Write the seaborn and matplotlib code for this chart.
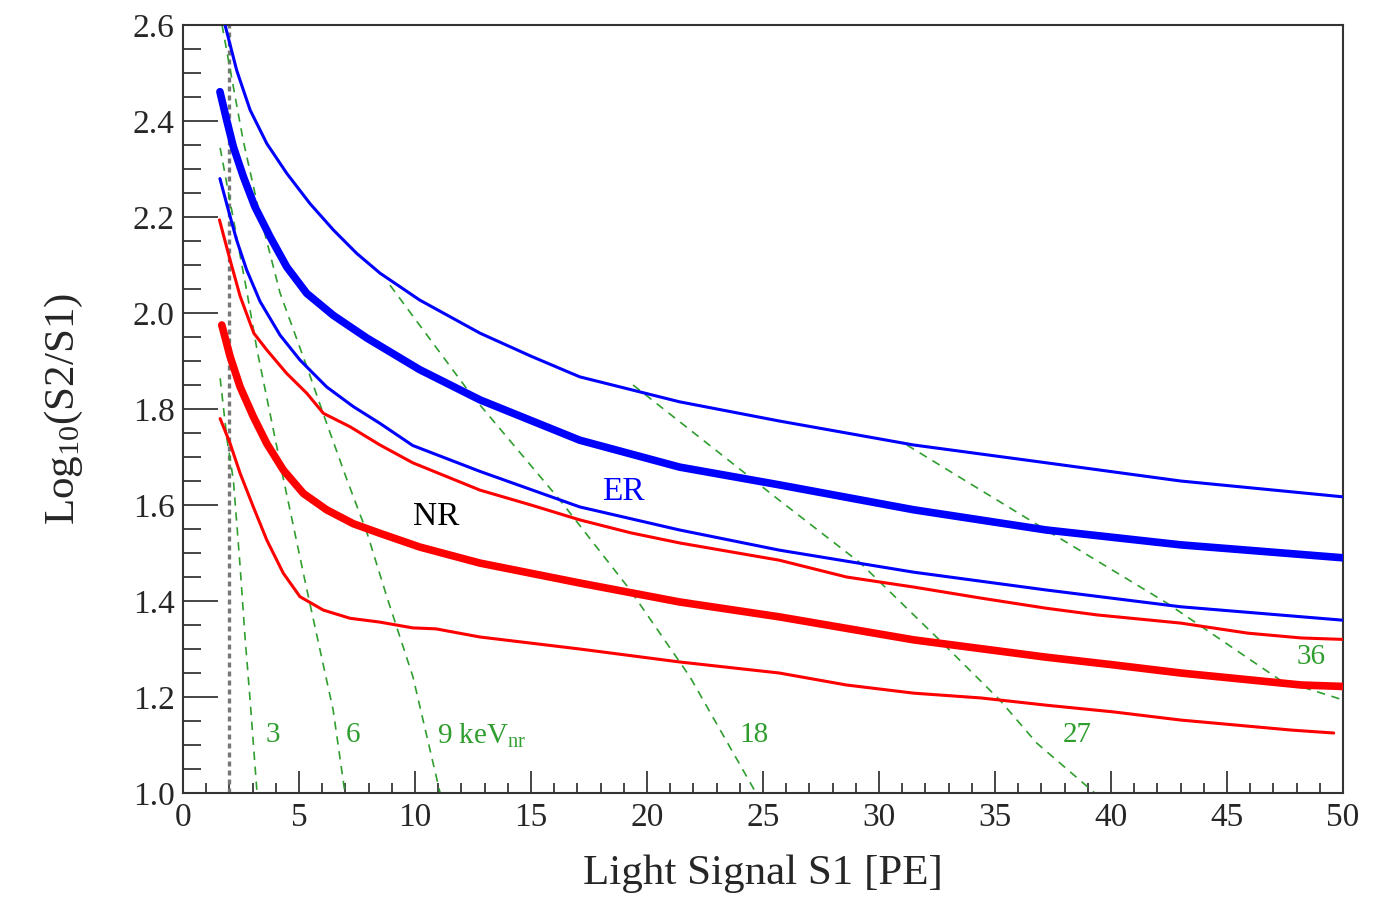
import matplotlib
matplotlib.use("Agg")
import matplotlib.pyplot as plt
import seaborn as sns
from matplotlib.ticker import MultipleLocator, FormatStrFormatter

# ER band (blue): upper, median, lower
er_hi_x = [1.81, 2.31, 2.89, 3.61, 4.47, 5.47, 6.48, 7.49, 8.49, 10.2, 12.8, 15.0, 17.1, 21.4, 25.7, 31.5,
           37.2, 43.0, 50.0]
er_hi_y = [2.60, 2.506, 2.423, 2.353, 2.291, 2.228, 2.173, 2.124, 2.083, 2.027, 1.958, 1.91, 1.867, 1.815,
           1.775, 1.725, 1.688, 1.650, 1.617]

er_med_x = [1.59, 1.88, 2.17, 2.6, 3.1, 3.75, 4.47, 5.33, 6.48, 7.92, 10.2, 12.8, 17.1, 21.4, 25.7, 31.5,
            37.2, 43.0, 50.0]
er_med_y = [2.461, 2.402, 2.346, 2.284, 2.221, 2.159, 2.096, 2.041, 1.995, 1.948, 1.882, 1.819, 1.735, 1.679,
            1.642, 1.59, 1.548, 1.517, 1.49]

er_lo_x = [1.59, 1.95, 2.31, 2.74, 3.32, 4.18, 5.04, 6.19, 7.34, 8.49, 9.9, 12.8, 17.1, 21.4, 25.7, 31.5,
           37.2, 43.0, 50.0]
er_lo_y = [2.28, 2.215, 2.152, 2.09, 2.024, 1.954, 1.902, 1.846, 1.805, 1.77, 1.724, 1.67, 1.596, 1.548,
           1.506, 1.46, 1.423, 1.388, 1.36]

# NR band (red): upper, median, lower
nr_hi_x = [1.57, 2.03, 2.46, 3.05, 3.61, 4.47, 5.33, 6.05, 7.2, 8.49, 9.9, 12.8, 15.0, 17.1, 19.3, 21.4,
           25.7, 28.6, 31.5, 34.4, 37.2, 39.4, 43.0, 45.9, 48.2, 50.0]
nr_hi_y = [2.194, 2.11, 2.035, 1.958, 1.923, 1.874, 1.833, 1.791, 1.763, 1.725, 1.688, 1.631, 1.60, 1.569,
           1.542, 1.521, 1.485, 1.45, 1.429, 1.406, 1.385, 1.371, 1.354, 1.333, 1.323, 1.32]

nr_med_x = [1.67, 2.03, 2.46, 3.03, 3.61, 4.32, 5.19, 6.19, 7.34, 8.49, 10.2, 12.8, 17.1, 21.4, 25.7, 31.5,
            37.2, 40.1, 43.0, 48.2, 50.0]
nr_med_y = [1.975, 1.909, 1.846, 1.784, 1.728, 1.673, 1.624, 1.59, 1.561, 1.541, 1.5125, 1.479, 1.4375,
            1.398, 1.367, 1.319, 1.283, 1.267, 1.25, 1.225, 1.222]

nr_lo_x = [1.6, 2.03, 2.46, 3.03, 3.61, 4.32, 5.04, 6.05, 7.2, 8.49, 9.9, 10.9, 12.8, 17.1, 21.4, 25.7,
           28.6, 31.5, 34.4, 37.2, 40.1, 43.0, 47.8, 49.6]
nr_lo_y = [1.78, 1.728, 1.666, 1.596, 1.527, 1.458, 1.409, 1.381, 1.364, 1.356, 1.344, 1.342, 1.325, 1.30,
           1.273, 1.25, 1.225, 1.208, 1.198, 1.183, 1.169, 1.152, 1.131, 1.125]

# constant-energy contours (keVnr)
kev3_x = [1.6, 1.9, 2.17, 2.46, 2.67, 2.89, 3.19]
kev3_y = [1.864, 1.735, 1.652, 1.472, 1.326, 1.194, 1.0]
kev6_x = [1.6, 2.76, 3.19, 4.31, 5.34, 6.47, 6.98]
kev6_y = [2.344, 2.042, 1.923, 1.658, 1.423, 1.173, 1.0]
kev9_x = [1.68, 2.59, 3.23, 4.18, 5.34, 6.03, 7.07, 7.93, 8.79, 9.91, 11.08]
kev9_y = [2.6, 2.36, 2.221, 2.042, 1.8875, 1.792, 1.652, 1.542, 1.408, 1.242, 1.0]
kev18_x = [8.92, 12.37, 16.25, 19.27, 21.85, 24.7]
kev18_y = [2.058, 1.833, 1.61, 1.423, 1.242, 1.0]
kev27_x = [19.4, 25.7, 29.2, 32.6, 35.2, 36.8, 39.3]
kev27_y = [1.85, 1.61, 1.479, 1.319, 1.194, 1.104, 1.0]
kev36_x = [31.2, 37.2, 42.4, 47.3, 50.0]
kev36_y = [1.725, 1.548, 1.396, 1.235, 1.194]

threshold_s1 = 2.0

contour_labels = ["3", "6", r"9 keV$_{\rm nr}$", "18", "27", "36"]
contour_label_x = [3.55, 7.0, 10.95, 24.0, 37.9, 48.0]
contour_label_y = [1.12, 1.12, 1.12, 1.12, 1.12, 1.283]

sns.set_style("ticks")
plt.rcParams["font.family"] = ["Liberation Serif", "DejaVu Serif"]
plt.rcParams["mathtext.fontset"] = "custom"
plt.rcParams["mathtext.rm"] = "Liberation Serif"
plt.rcParams["mathtext.it"] = "Liberation Serif:italic"

fig = plt.figure(figsize=(13.93, 8.99), dpi=100)
ax = fig.add_axes([0.1314, 0.1179, 0.8327, 0.8543])

green = "#2f9e2f"
dash = (0, (5, 4))

ax.axvline(threshold_s1, color="#777777", linewidth=2.4, linestyle=(0, (1.5, 1.2)), zorder=1)

for cx, cy in [(kev3_x, kev3_y), (kev6_x, kev6_y), (kev9_x, kev9_y),
               (kev18_x, kev18_y), (kev27_x, kev27_y), (kev36_x, kev36_y)]:
    sns.lineplot(x=cx, y=cy, ax=ax, color=green, linewidth=1.2, linestyle=dash,
                 estimator=None, sort=False, zorder=2)

for cx, cy, c, lw in [(er_hi_x, er_hi_y, "#0000ff", 2.2),
                      (er_med_x, er_med_y, "#0000ff", 5.5),
                      (er_lo_x, er_lo_y, "#0000ff", 2.2),
                      (nr_hi_x, nr_hi_y, "#ff0000", 2.2),
                      (nr_med_x, nr_med_y, "#ff0000", 5.5),
                      (nr_lo_x, nr_lo_y, "#ff0000", 2.2)]:
    sns.lineplot(x=cx, y=cy, ax=ax, color=c, linewidth=lw, estimator=None, sort=False, zorder=3)

for lab, lx, ly in zip(contour_labels, contour_label_x, contour_label_y):
    ax.text(lx, ly, lab, color=green, fontsize=21, ha="left", va="center")

ax.text(10.9, 1.575, "NR", color="black", fontsize=24, ha="center", va="center")
ax.text(19.0, 1.628, "ER", color="#0000ff", fontsize=24, ha="center", va="center")

ax.set_xlim(0, 50)
ax.set_ylim(1.0, 2.6)
ax.xaxis.set_major_locator(MultipleLocator(5))
ax.xaxis.set_minor_locator(MultipleLocator(1))
ax.yaxis.set_major_locator(MultipleLocator(0.2))
ax.yaxis.set_minor_locator(MultipleLocator(0.05))
ax.yaxis.set_major_formatter(FormatStrFormatter("%.1f"))

ax.tick_params(axis="x", which="major", direction="in", length=16, width=1.2, labelsize=24, pad=7)
ax.tick_params(axis="x", which="minor", direction="in", length=7, width=1.2)
ax.tick_params(axis="y", which="major", direction="in", length=25, width=1.2, labelsize=24, pad=6)
ax.tick_params(axis="y", which="minor", direction="in", length=13, width=1.2)
for side in ["top", "right", "bottom", "left"]:
    ax.spines[side].set_visible(True)
    ax.spines[side].set_linewidth(1.5)
    ax.spines[side].set_color("#333333")

ax.set_xlabel("Light Signal S1 [PE]", fontsize=31, labelpad=15)
ax.set_ylabel(r"Log$_{10}$(S2/S1)", fontsize=31, labelpad=34)

fig.savefig("out.png", dpi=100)
